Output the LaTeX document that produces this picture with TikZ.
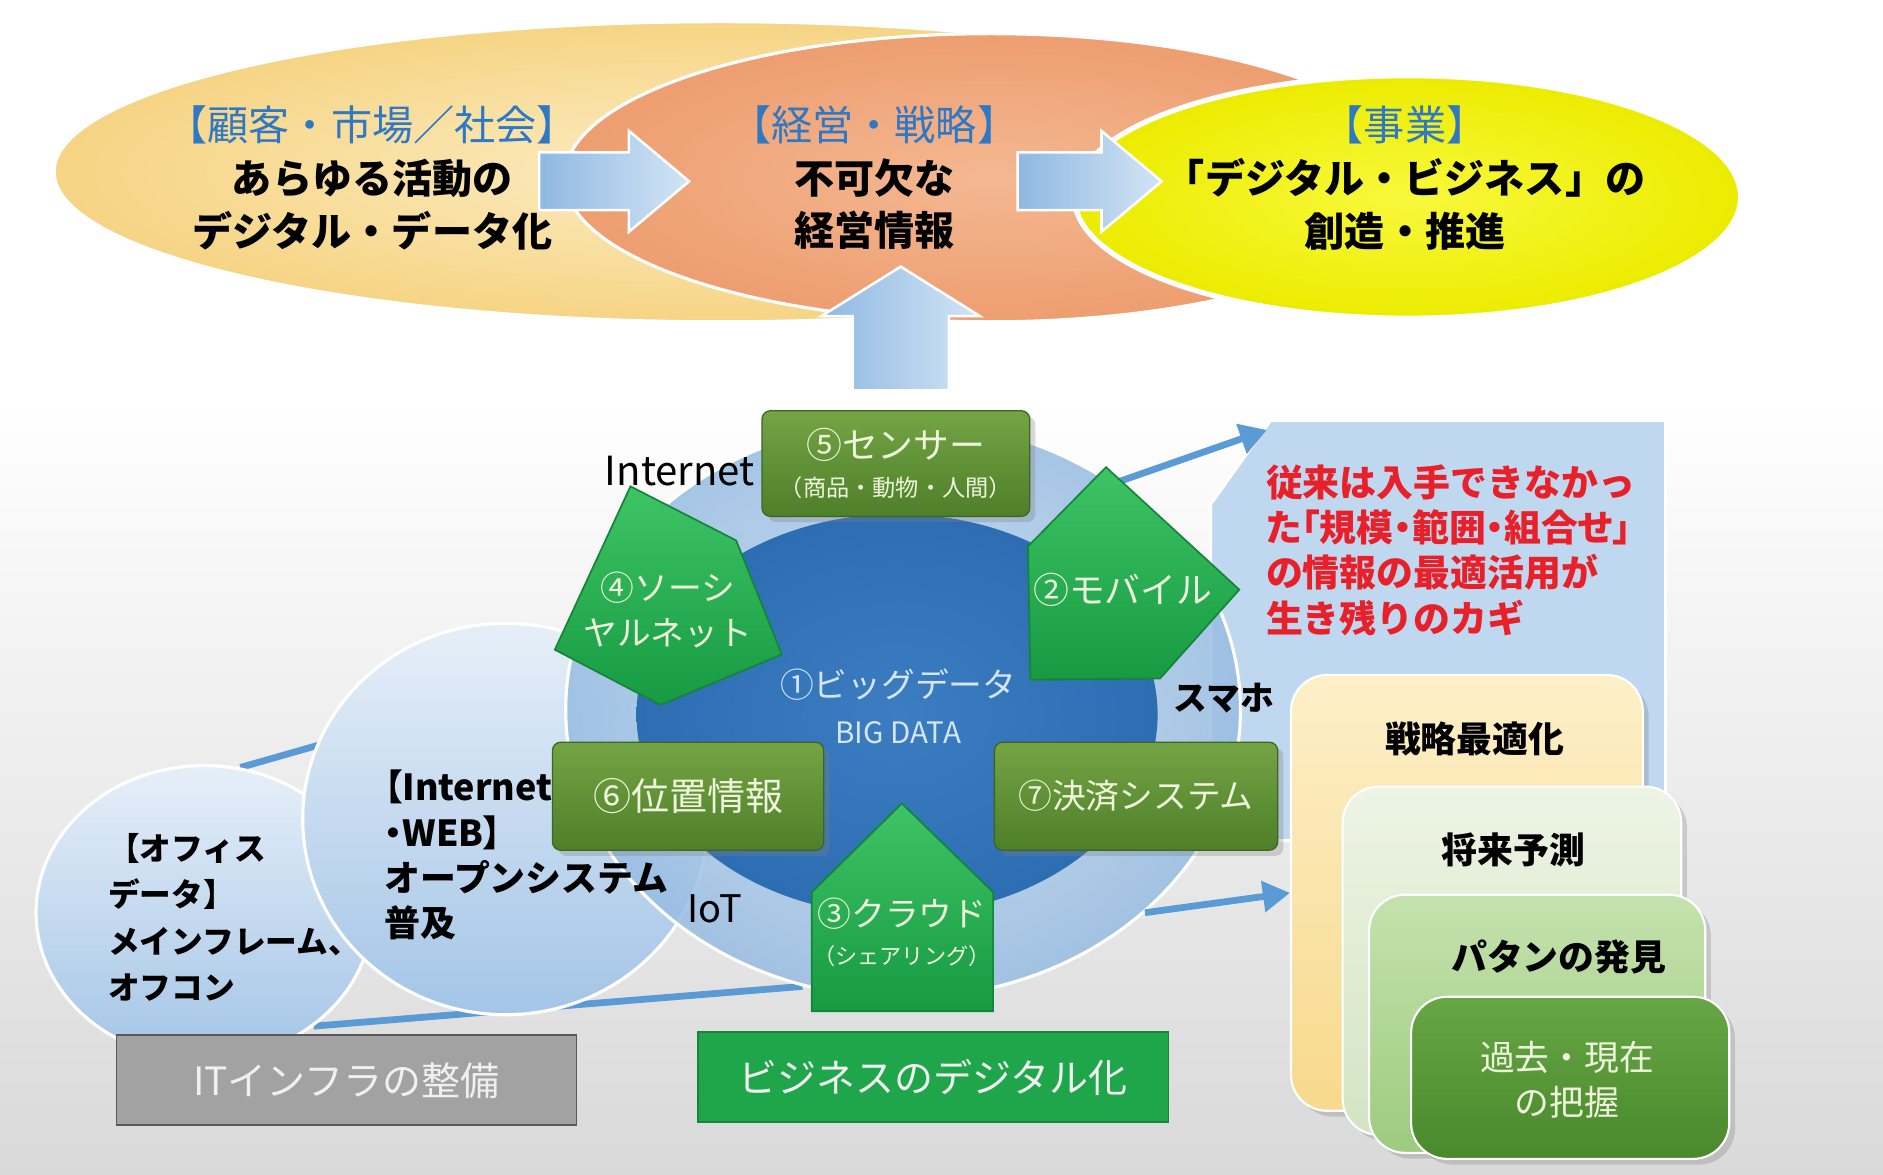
\documentclass[tikz,border=0pt]{standalone}
\usepackage{fontspec}
\setmainfont{Noto Sans CJK JP}
\newfontfamily\pfont{Noto Sans CJK JP}[RawFeature=+palt]
\usetikzlibrary{shapes.geometric,shapes.arrows,arrows.meta,positioning,shadows}

\definecolor{bggray}{HTML}{D9D9D9}
\definecolor{hdrblue}{HTML}{2F78C4}
\definecolor{custlight}{HTML}{FCEDC4}
\definecolor{custfill}{HTML}{F6D484}
\definecolor{mgmtlight}{HTML}{F4B892}
\definecolor{mgmtfill}{HTML}{EE9E70}
\definecolor{bizlight}{HTML}{F8F83C}
\definecolor{bizfill}{HTML}{ECEC00}
\definecolor{arrowblue}{HTML}{8FB9E2}
\definecolor{arrowlight}{HTML}{D3E4F4}
\definecolor{ringlight}{HTML}{C9DDF1}
\definecolor{ringblue}{HTML}{97BCE2}
\definecolor{bubbletop}{HTML}{E6EFF8}
\definecolor{bubblebot}{HTML}{A4C5E7}
\definecolor{coreblue}{HTML}{2D6DB2}
\definecolor{corelight}{HTML}{3C7DC2}
\definecolor{coretext}{HTML}{D4E5F5}
\definecolor{tagtop}{HTML}{74A444}
\definecolor{tagbot}{HTML}{4E7F29}
\definecolor{tagtext}{HTML}{EEF5DC}
\definecolor{gemtop}{HTML}{3DC465}
\definecolor{gembot}{HTML}{179A42}
\definecolor{gemedge}{HTML}{128636}
\definecolor{linkblue}{HTML}{5B9BD5}
\definecolor{callfill}{HTML}{BFD8EF}
\definecolor{keyred}{HTML}{E8202A}
\definecolor{opttop}{HTML}{FDEFC8}
\definecolor{optbot}{HTML}{F8D98C}
\definecolor{predtop}{HTML}{EDF4E4}
\definecolor{predbot}{HTML}{D3E4C2}
\definecolor{pattop}{HTML}{C4E2AE}
\definecolor{patbot}{HTML}{9ECB7E}
\definecolor{pasttop}{HTML}{66A644}
\definecolor{pastbot}{HTML}{4A892C}
\definecolor{infragray}{HTML}{A2A2A2}
\definecolor{digigreen}{HTML}{1FA64B}

\newcommand{\setfs}[2]{\fontsize{#1}{#2}\selectfont}
\newcommand{\hdrfont}{\mdseries\color{hdrblue}\setfs{19.5}{25}}

\pgfdeclarelayer{canvas}
\pgfdeclarelayer{links}
\pgfsetlayers{canvas,links,main}

\tikzset{
  blob/.style={ellipse, inner sep=0pt, draw=white, line width=1.5pt},
  toptext/.style={align=center, font=\bfseries\setfs{19}{25}},
  blockarrow/.style={single arrow, single arrow head indent=0pt, inner xsep=0pt,
    draw=white, line width=1.2pt, left color=arrowblue, right color=arrowlight},
  bubble/.style={ellipse, inner sep=0pt, draw=white, line width=1.5pt,
    top color=bubbletop, bottom color=bubblebot},
  hub/.style={ellipse, inner sep=0pt, draw=white, line width=1.5pt,
    inner color=ringlight, outer color=ringblue, fill opacity=0.85},
  core/.style={ellipse, inner sep=0pt, inner color=corelight, outer color=coreblue},
  datatag/.style={rectangle, rounded corners=4pt, inner sep=0pt, draw=tagbot!80!black,
    line width=0.6pt, top color=tagtop, bottom color=tagbot, text=tagtext,
    align=center, font=\setfs{17}{20}, drop shadow={opacity=0.3}},
  gem/.style={draw=gemedge, line width=0.8pt, top color=gemtop, bottom color=gembot},
  gemtxt/.style={text=tagtext, align=center, font=\setfs{16}{21}},
  tag/.style={text=black, font=\setfs{19}{22}},
  link/.style={draw=linkblue, line width=3.2pt},
  pointer/.style={draw=linkblue, line width=3.2pt, -{Triangle[length=0.45cm,width=0.5cm]}},
  stackbox/.style={rectangle, rounded corners=0.6cm, inner sep=0pt, draw=white, line width=1pt,
    drop shadow={opacity=0.3}},
  stacktxt/.style={align=center, font=\bfseries\setfs{17}{21}},
  footbox/.style={rectangle, inner sep=0pt, minimum height=1.5cm, line width=0.8pt,
    text=white!94!black, font=\setfs{18.5}{22}}
}

\begin{document}
\begin{tikzpicture}[x=0.02cm, y=-0.02cm]
\useasboundingbox (0,0) rectangle (1568,978);

% Canvas
\begin{pgfonlayer}{canvas}
\fill[white] (0,0) rectangle (1568,978);
\shade[top color=white, bottom color=bggray] (0,330) rectangle (1568,978);
\end{pgfonlayer}

% Upper ellipses
\node[blob, inner color=custlight, outer color=custfill, minimum width=22.2cm, minimum height=5cm] (cust) at (600,143) {};
\node[blob, inner color=mgmtlight, outer color=mgmtfill, minimum width=14.2cm, minimum height=4.8cm] (mgmt) at (825,148) {};
\node[blob, line width=2.5pt, inner color=bizlight, outer color=bizfill, minimum width=11.1cm, minimum height=4.04cm] (biz) at (1172,164) {};

\node[toptext] (custtxt) at (310,148) {{\hdrfont 【顧客・市場／社会】}\\あらゆる活動の\\デジタル・データ化};
\node[toptext] (mgmttxt) at (728,148) {{\hdrfont 【経営・戦略】}\\不可欠な\\経営情報};
\node[toptext] (biztxt) at (1170,148) {{\hdrfont 【事業】}\\「デジタル・ビジネス」の\\創造・推進};

% Block arrows
\node[blockarrow, minimum height=2.5cm, minimum width=1.64cm, inner ysep=0.46cm, single arrow head extend=0.36cm, single arrow tip angle=80] (toMgmt) at (497,151) {};
\node[blockarrow, minimum height=2.4cm, minimum width=1.64cm, inner ysep=0.46cm, single arrow head extend=0.36cm, single arrow tip angle=80] (toBiz) at (893,151) {};
\node[blockarrow, rotate=90, minimum height=2.06cm, minimum width=2.6cm, inner ysep=0.78cm, single arrow head extend=0.52cm, single arrow tip angle=116] (toTop) at (750,286) {};

% Callout
\fill[callfill, draw=white, line width=1.5pt] (1008,420) -- (1058,350) -- (1387,350) -- (1387,700) -- (1008,700) -- cycle;
\coordinate (calltip) at (1055,358);
\node[anchor=west, align=left, text=keyred, font=\bfseries\setfs{17.5}{21.5}] (key) at (1048,458)
  {従来は入手できなかっ\\{\pfont た「規模・範囲・組合せ」}\\の情報の最適活用が\\生き残りのカギ};

% Stack of results
\node[stackbox, top color=opttop, bottom color=optbot, minimum width=5.86cm, minimum height=7.26cm] (opt) at (1221.5,743.5) {};
\node[stacktxt] (opttxt) at (1228,615) {戦略最適化};
\node[stackbox, top color=predtop, bottom color=predbot, minimum width=5.64cm, minimum height=5.8cm] (pred) at (1259,800) {};
\node[stacktxt] (predtxt) at (1260,708) {将来予測};
\node[stackbox, top color=pattop, bottom color=patbot, minimum width=5.6cm, minimum height=4.3cm] (pat) at (1280,852.5) {};
\node[stacktxt] (pattxt) at (1298,797) {パタンの発見};
\node[stackbox, top color=pasttop, bottom color=pastbot, minimum width=5.3cm, minimum height=2.7cm] (past) at (1307.5,897.5) {};
\node[stacktxt, text=tagtext, font=\setfs{16.5}{21}] (pasttxt) at (1305,899) {過去・現在\\の把握};

% Older systems
\node[bubble, minimum width=5.6cm, minimum height=4.9cm] (office) at (170,760) {};
\node[anchor=west, align=left, font=\bfseries\setfs{15}{22}] (officetxt) at (84,764) {【オフィス\\データ】\\メインフレーム、\\オフコン};
\node[bubble, minimum width=6.76cm, minimum height=6.52cm] (web) at (421,682) {};

% Big data rings
\node[hub, minimum width=11.24cm, minimum height=9.6cm] (ring) at (752,591) {};
\node[core, minimum width=8.68cm, minimum height=6.68cm] (core) at (747,595) {};
\node[text=coretext, align=center, font=\setfs{16}{21.5}] (coretxt) at (748,588) {①ビッグデータ\\{\setfs{14}{21.5}BIG DATA}};

\begin{pgfonlayer}{links}
\draw[link] (office.76) -- (ring.174);
\draw[link] (office.-46) -- (ring.250);
\end{pgfonlayer}

\node[anchor=west, align=left, font=\bfseries\setfs{17}{21.5}] (webtxt) at (314,712) {{\pfont 【Internet}\\{\pfont ・WEB】}\\オープンシステム\\普及};

% Pointers
\draw[pointer] (ring.47) -- (calltip);
\draw[pointer] (ring.-40) -- (opt.west);

% Data sources
\node[datatag, minimum width=4.46cm, minimum height=1.76cm] (sensor) at (746,386) {⑤センサー\\[-2pt]{\setfs{11}{12}（商品・動物・人間）}};
\node[datatag, font=\setfs{18}{20}, minimum width=4.52cm, minimum height=1.8cm] (loc) at (573,663) {⑥位置情報};
\node[datatag, font=\setfs{16}{20}, minimum width=4.72cm, minimum height=1.8cm] (pay) at (946,663) {⑦決済システム};

\path[gem] (525,405) -- (613,450) -- (651,545) -- (550,587) -- (462,541) -- cycle;
\node[gemtxt] (social) at (556,508) {④ソーシ\\ヤルネット};
\path[gem] (921,389) -- (1032,491) -- (966,565) -- (858,566) -- (856,455) -- cycle;
\node[gemtxt, font=\setfs{17}{21}] (mobile) at (935,491) {②モバイル};
\path[gem] (751,669) -- (827,743) -- (827,842) -- (676,842) -- (676,743) -- cycle;
\node[gemtxt] (cloud) at (751,776) {③クラウド\\[-3pt]{\setfs{10.5}{12}（シェアリング）}};

% Labels
\node[tag] (internet) at (566,392) {Internet};
\node[tag, font=\bfseries\setfs{16}{20}] (smaho) at (1019,581) {スマホ};
\node[tag, font=\setfs{18}{20}] (iot) at (595,757) {IoT};

% Footers
\node[footbox, fill=infragray, draw=gray!70!black, minimum width=7.66cm] (infra) at (288.5,899.5) {ITインフラの整備};
\node[footbox, fill=digigreen, draw=digigreen!80!black, minimum width=7.84cm] (digi) at (777,897) {ビジネスのデジタル化};

\end{tikzpicture}
\end{document}
